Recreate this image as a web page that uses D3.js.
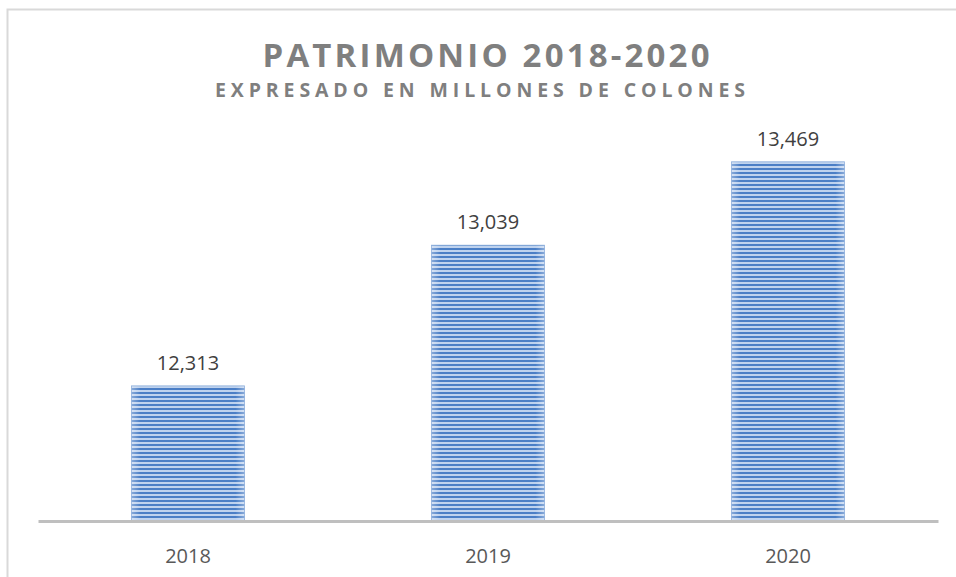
<!DOCTYPE html>
<html>
<head>
<meta charset="utf-8">
<script src="https://cdn.jsdelivr.net/npm/d3@7"></script>
<style>
  html, body { margin: 0; padding: 0; background: #fff; }
  svg { display: block; }
</style>
</head>
<body>
<script>
const years = ['2018', '2019', '2020'];
const patrimonio = [12313, 13039, 13469];
const titleText = 'PATRIMONIO 2018-2020';
const subtitleText = 'EXPRESADO EN MILLONES DE COLONES';

const width = 956;
const height = 577;
const margin = { top: 98, right: 18, bottom: 56, left: 38 };

const svg = d3.select('body').append('svg')
  .attr('width', width)
  .attr('height', height);

// striped fill for bars
const defs = svg.append('defs');
const pat = defs.append('pattern')
  .attr('id', 'stripes')
  .attr('patternUnits', 'userSpaceOnUse')
  .attr('width', 8)
  .attr('height', 4);
pat.append('rect').attr('width', 8).attr('height', 4).attr('fill', '#bed2ee');
pat.append('rect').attr('y', 0).attr('width', 8).attr('height', 2).attr('fill', '#4a7ec6');

const grad = defs.append('linearGradient').attr('id', 'edge');
grad.append('stop').attr('offset', '0%').attr('stop-color', '#fff').attr('stop-opacity', 0.35);
grad.append('stop').attr('offset', '8%').attr('stop-color', '#fff').attr('stop-opacity', 0);
grad.append('stop').attr('offset', '92%').attr('stop-color', '#fff').attr('stop-opacity', 0);
grad.append('stop').attr('offset', '100%').attr('stop-color', '#fff').attr('stop-opacity', 0.35);

// outer frame
svg.append('path')
  .attr('d', `M7.5,${height} V9.5 H${width}`)
  .attr('fill', 'none')
  .attr('stroke', '#d9d9d9')
  .attr('stroke-width', 2);

const x = d3.scaleBand()
  .domain(years)
  .range([margin.left, width - margin.right])
  .paddingInner(0.623)
  .paddingOuter(0.3115);

const y = d3.scaleLinear()
  .domain([11616, 13800])
  .range([height - margin.bottom, 97.7]);

const baseY = height - margin.bottom;

const bars = svg.append('g')
  .selectAll('g')
  .data(years)
  .join('g');

bars.append('rect')
  .attr('x', d => x(d))
  .attr('y', (d, i) => y(patrimonio[i]))
  .attr('width', x.bandwidth())
  .attr('height', (d, i) => baseY - y(patrimonio[i]))
  .attr('fill', 'url(#stripes)');

bars.append('rect')
  .attr('x', d => x(d))
  .attr('y', (d, i) => y(patrimonio[i]))
  .attr('width', x.bandwidth())
  .attr('height', (d, i) => baseY - y(patrimonio[i]))
  .attr('fill', 'url(#edge)')
  .attr('stroke', '#8fb0dc')
  .attr('stroke-width', 0.8);

// data labels
bars.append('text')
  .attr('x', d => x(d) + x.bandwidth() / 2)
  .attr('y', (d, i) => y(patrimonio[i]) - 16)
  .attr('text-anchor', 'middle')
  .attr('font-family', '"Open Sans", Lato, sans-serif')
  .attr('font-size', '20px')
  .attr('fill', '#404040')
  .text((d, i) => d3.format(',')(patrimonio[i]));

// x axis
const xAxis = svg.append('g')
  .attr('transform', `translate(0, ${baseY})`)
  .call(d3.axisBottom(x).tickSize(0).tickPadding(0));
xAxis.select('.domain')
  .attr('stroke', '#bfbfbf')
  .attr('stroke-width', 3);
xAxis.selectAll('text')
  .attr('y', 42)
  .attr('dy', null)
  .attr('font-family', '"Open Sans", Lato, sans-serif')
  .attr('font-size', '20px')
  .attr('fill', '#595959');

// titles
svg.append('text')
  .attr('x', 486)
  .attr('y', 67)
  .attr('text-anchor', 'middle')
  .attr('font-family', '"Open Sans", sans-serif')
  .attr('font-weight', 'bold')
  .attr('font-size', '33px')
  .attr('fill', '#7f7f7f')
  .attr('textLength', 447)
  .attr('lengthAdjust', 'spacing')
  .text(titleText);

svg.append('text')
  .attr('x', 480)
  .attr('y', 97)
  .attr('text-anchor', 'middle')
  .attr('font-family', '"Open Sans", sans-serif')
  .attr('font-weight', 'bold')
  .attr('font-size', '19.5px')
  .attr('fill', '#7f7f7f')
  .attr('textLength', 530)
  .attr('lengthAdjust', 'spacing')
  .text(subtitleText);
</script>
</body>
</html>
